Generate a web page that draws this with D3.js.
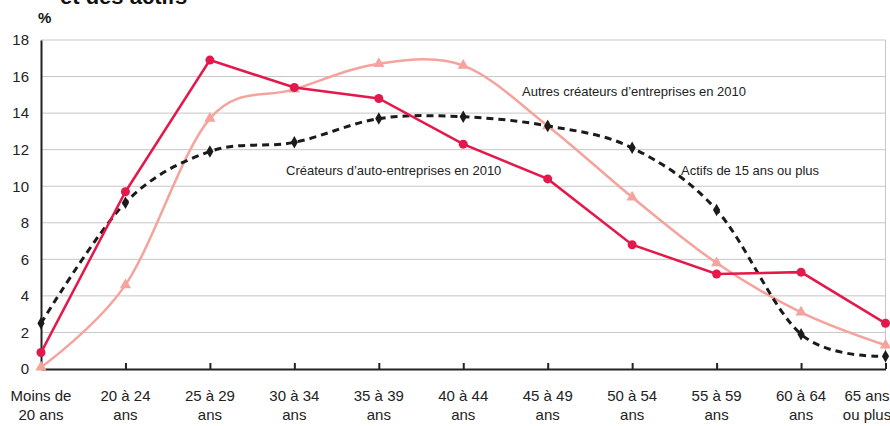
<!DOCTYPE html>
<html lang="fr">
<head>
<meta charset="UTF-8">
<title>Créateurs et actifs par âge</title>
<script src="https://d3js.org/d3.v7.min.js"></script>
<style>
    body { margin: 0; background: #fff; }
    text { font-family: "Liberation Sans", Arial, sans-serif; fill: #222; }
    .title { font-size: 22px; font-weight: bold; fill: #111; }
    .unit { font-size: 15px; font-weight: bold; fill: #111; }
    .tick-label { font-size: 15px; }
    .series-label { font-size: 13px; }
</style>
</head>
<body>
<div id="chart"></div>
<script>
// categories (two-line tick labels)
const categories = ["Moins de|20 ans", "20 à 24|ans", "25 à 29|ans", "30 à 34|ans", "35 à 39|ans",
                    "40 à 44|ans", "45 à 49|ans", "50 à 54|ans", "55 à 59|ans", "60 à 64|ans", "65 ans|ou plus"];
const yTicks = [0, 2, 4, 6, 8, 10, 12, 14, 16, 18];

// series values, in %
const autoEntrepreneurs = [0.9, 9.7, 16.9, 15.4, 14.8, 12.3, 10.4, 6.8, 5.2, 5.3, 2.5];
const autresCreateurs   = [0.1, 4.6, 13.7, 15.3, 16.7, 16.6, 13.3, 9.4, 5.8, 3.1, 1.3];
const actifs            = [2.5, 9.1, 11.9, 12.4, 13.7, 13.8, 13.3, 12.1, 8.7, 1.9, 0.7];

const W = 890, H = 426;
const plot = { left: 41, right: 885.5, top: 40, bottom: 369 };

const svg = d3.select("#chart").append("svg")
    .attr("width", W).attr("height", H);

const x = d3.scalePoint().domain(categories).range([plot.left, plot.right]);
const y = d3.scaleLinear().domain([0, 18]).range([plot.bottom, plot.top]);

// title (cut at the top) and unit
svg.append("text").attr("class", "title").attr("x", 60).attr("y", 4).text("et des actifs");
svg.append("text").attr("class", "unit").attr("x", 38).attr("y", 23).text("%");

// gridlines
svg.append("g")
   .selectAll("line")
   .data(yTicks.filter(d => d > 0))
   .join("line")
   .attr("x1", plot.left).attr("x2", plot.right)
   .attr("y1", d => y(d)).attr("y2", d => y(d))
   .attr("stroke", "#c6c6c6").attr("stroke-width", 1);

// right border
svg.append("line")
   .attr("x1", plot.right).attr("x2", plot.right).attr("y1", plot.top).attr("y2", plot.bottom)
   .attr("stroke", "#c6c6c6").attr("stroke-width", 1);

// y axis
const yAxis = svg.append("g")
   .attr("transform", `translate(${plot.left},0)`)
   .call(d3.axisLeft(y).tickValues(yTicks).tickSize(0).tickPadding(12));
yAxis.select(".domain").attr("stroke", "#222").attr("stroke-width", 2);
yAxis.selectAll("text").attr("class", "tick-label").attr("font-family", null).attr("font-size", null)
     .attr("fill", "#222");

// x axis
const xAxis = svg.append("g")
   .attr("transform", `translate(0,${plot.bottom})`)
   .call(d3.axisBottom(x).tickSize(-6).tickSizeOuter(0).tickFormat(""));
xAxis.select(".domain").attr("stroke", "#222").attr("stroke-width", 2);
xAxis.selectAll(".tick line").attr("stroke", "#222").attr("stroke-width", 2)
     .filter(d => d === categories[0]).remove();

// x tick labels
categories.forEach((c, i) => {
    const parts = c.split("|");
    let cx = x(c);
    if (i === categories.length - 1) cx = 867;
    const t = svg.append("text").attr("class", "tick-label")
       .attr("text-anchor", "middle").attr("x", cx).attr("y", 401);
    t.append("tspan").attr("x", cx).text(parts[0]);
    t.append("tspan").attr("x", cx).attr("dy", 19).text(parts[1]);
});

const smooth = d3.curveCatmullRom.alpha(0);

function drawLine(values, color, width, curve, dash) {
    const line = d3.line()
        .x((d, i) => x(categories[i]))
        .y(d => y(d))
        .curve(curve);
    svg.append("path")
       .datum(values)
       .attr("fill", "none")
       .attr("stroke", color)
       .attr("stroke-width", width)
       .attr("stroke-dasharray", dash)
       .attr("d", line);
}

// Autres créateurs (smoothed, pink)
drawLine(autresCreateurs, "#f5a39c", 2.5, smooth, null);
svg.append("g").selectAll("path")
   .data(autresCreateurs)
   .join("path")
   .attr("d", d3.symbol(d3.symbolTriangle, 55))
   .attr("transform", (d, i) => `translate(${x(categories[i])},${y(d)})`)
   .attr("fill", "#f5a39c");

// Actifs (smoothed, black dashed)
drawLine(actifs, "#1b1b1b", 3, smooth, "7,5");
svg.append("g").selectAll("path")
   .data(actifs)
   .join("path")
   .attr("d", d3.symbol(d3.symbolDiamond, 45))
   .attr("transform", (d, i) => `translate(${x(categories[i])},${y(d)})`)
   .attr("fill", "#1b1b1b");

// Créateurs d'auto-entreprises (straight, red)
drawLine(autoEntrepreneurs, "#e5184b", 2.5, d3.curveLinear, null);
svg.append("g").selectAll("circle")
   .data(autoEntrepreneurs)
   .join("circle")
   .attr("cx", (d, i) => x(categories[i]))
   .attr("cy", d => y(d))
   .attr("r", 4.5)
   .attr("fill", "#e5184b");

// series labels
svg.append("text").attr("class", "series-label").attr("x", 522).attr("y", 96)
   .text("Autres créateurs d’entreprises en 2010");
svg.append("text").attr("class", "series-label").attr("x", 681).attr("y", 175)
   .text("Actifs de 15 ans ou plus");
svg.append("text").attr("class", "series-label").attr("x", 286).attr("y", 175)
   .text("Créateurs d’auto-entreprises en 2010");
</script>
</body>
</html>
